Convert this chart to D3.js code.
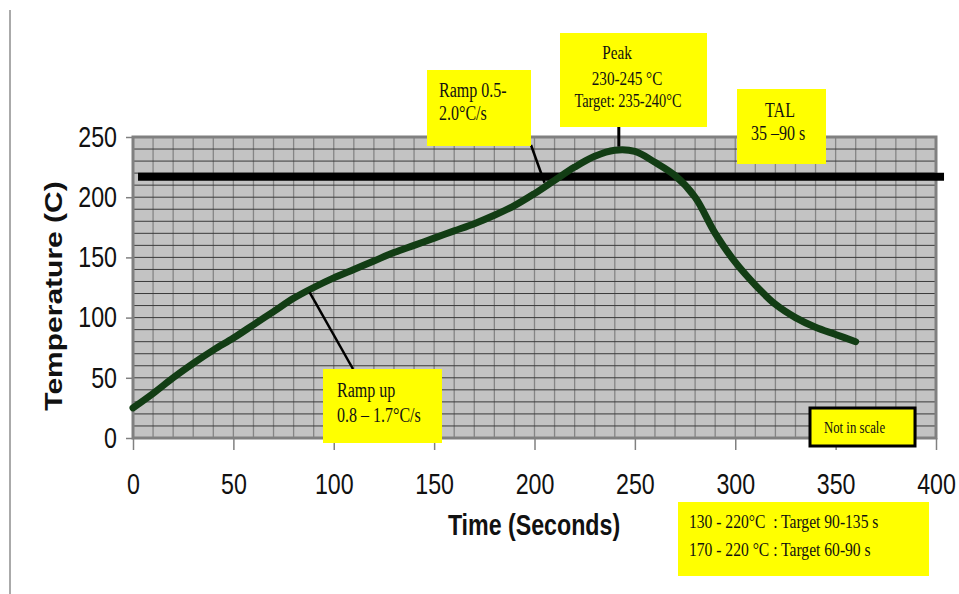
<!DOCTYPE html>
<html>
<head>
<meta charset="utf-8">
<script src="https://cdn.jsdelivr.net/npm/d3@7"></script>
<style>
  body { margin: 0; background: #fff; }
  text { font-family: "Liberation Sans", Arial, sans-serif; }
  .note { font-family: "Liberation Serif", "Times New Roman", serif; fill: #111; }
</style>
</head>
<body>
<div id="chart"></div>
<script>
// reflow profile (seconds, degrees C)
const times = [0, 10, 20, 30, 40, 50, 60, 70, 80, 90, 100, 110, 120, 130, 140, 150, 160, 170, 180,
	190, 200, 210, 220, 230, 240, 250, 260, 270, 280, 290, 300, 310, 320, 330, 340, 350, 360]
const temps = [25, 37, 50, 62, 73, 83, 94, 105, 116, 125, 133, 140, 147, 154, 160, 166, 172, 178, 185,
	193, 203, 214, 225, 234, 239, 238, 229, 218, 200, 170, 146, 127, 111, 100, 92, 86, 80]
const xTicks = [0, 50, 100, 150, 200, 250, 300, 350, 400]
const yTicks = [0, 50, 100, 150, 200, 250]
const liquidus = 217

const W = 959, H = 594
const x = d3.scaleLinear().domain([0, 400]).range([133, 936])
const y = d3.scaleLinear().domain([0, 250]).range([438, 137])
const squeeze = 0.8

const svg = d3.select("#chart")
	.append("svg")
	.attr("width", W)
	.attr("height", H)

// thin rule on the far left
svg.append("line")
	.attr("x1", 10).attr("x2", 10)
	.attr("y1", 10).attr("y2", H)
	.attr("stroke", "#aaa")
	.attr("stroke-width", 2)

// plot background
svg.append("rect")
	.attr("x", x(0))
	.attr("y", y(250))
	.attr("width", x(400) - x(0))
	.attr("height", y(0) - y(250))
	.attr("fill", "#c3c3c3")

svg.append("g")
	.selectAll("line")
	.data(d3.range(10, 400, 10))
	.enter().append("line")
	.attr("x1", d => x(d)).attr("x2", d => x(d))
	.attr("y1", y(250)).attr("y2", y(0))
	.attr("stroke", "#858585")
	.attr("stroke-width", 1.3)

svg.append("g")
	.selectAll("line")
	.data(d3.range(10, 250, 10))
	.enter().append("line")
	.attr("x1", x(0)).attr("x2", x(400))
	.attr("y1", d => y(d)).attr("y2", d => y(d))
	.attr("stroke", "#3a3a3a")
	.attr("stroke-width", 1)

svg.append("rect")
	.attr("x", x(0))
	.attr("y", y(250))
	.attr("width", x(400) - x(0))
	.attr("height", y(0) - y(250))
	.attr("fill", "none")
	.attr("stroke", "#808080")
	.attr("stroke-width", 3)

// axes
const yAxis = svg.append("g")
	.attr("transform", `translate(${x(0)},0)`)
	.call(d3.axisLeft(y).tickValues(yTicks).tickSize(7).tickPadding(9))
const xAxis = svg.append("g")
	.attr("transform", `translate(0,${y(0)})`)
	.call(d3.axisBottom(x).tickValues(xTicks).tickSize(12).tickPadding(23))

for (const ax of [xAxis, yAxis]) {
	ax.select(".domain").remove()
	ax.selectAll(".tick line").attr("stroke", "#808080").attr("stroke-width", 1.5)
	ax.selectAll(".tick text")
		.style("font-family", "'Liberation Sans', Arial, sans-serif")
		.style("font-size", "29px")
		.attr("fill", "#111")
}
yAxis.selectAll(".tick text")
	.attr("x", -16 / squeeze)
	.attr("transform", `scale(${squeeze},1)`)
xAxis.selectAll(".tick text")
	.attr("transform", `scale(${squeeze},1)`)

// axis titles
svg.append("text")
	.attr("transform", `translate(62,296) scale(${squeeze},1) rotate(-90)`)
	.attr("text-anchor", "middle")
	.style("font-size", "30px")
	.style("font-weight", "bold")
	.attr("fill", "#111")
	.text("Temperature (C)")

svg.append("text")
	.attr("transform", `translate(534,535) scale(${squeeze},1)`)
	.attr("text-anchor", "middle")
	.style("font-size", "29px")
	.style("font-weight", "bold")
	.attr("fill", "#111")
	.text("Time (Seconds)")

// liquidus line
svg.append("line")
	.attr("x1", x(2.5)).attr("x2", x(404))
	.attr("y1", y(liquidus)).attr("y2", y(liquidus))
	.attr("stroke", "#000")
	.attr("stroke-width", 8)

// profile
const profile = times.map((t, i) => ({t: t, v: temps[i]}))
const line = d3.line()
	.x(d => x(d.t))
	.y(d => y(d.v))
	.curve(d3.curveCatmullRom.alpha(0.5))

svg.append("path")
	.datum(profile)
	.attr("d", line)
	.attr("fill", "none")
	.attr("stroke", "#123d14")
	.attr("stroke-width", 7)
	.attr("stroke-linecap", "round")
	.attr("stroke-linejoin", "round")

// pointers
function pointer(x1, y1, x2, y2, w) {
	svg.append("line")
		.attr("x1", x1).attr("y1", y1)
		.attr("x2", x2).attr("y2", y2)
		.attr("stroke", "#000")
		.attr("stroke-width", w)
}
pointer(x(88), y(121), 353, 369, 2.5)
pointer(531, 145, x(205), y(212), 2.5)
pointer(x(242), 127, x(242), y(242), 3)

// yellow notes
function note(bx, by, bw, bh, lines, border) {
	svg.append("rect")
		.attr("x", bx).attr("y", by)
		.attr("width", bw).attr("height", bh)
		.attr("fill", "#ffff00")
		.attr("stroke", border ? "#000" : "none")
		.attr("stroke-width", border ? 3 : 0)
	lines.forEach(l => {
		svg.append("text")
			.attr("class", "note")
			.attr("transform", `translate(${l[1]},${l[2]}) scale(${squeeze},1)`)
			.attr("text-anchor", l[4] || "start")
			.attr("xml:space", "preserve")
			.style("font-size", l[3] + "px")
			.text(l[0])
	})
}

note(427, 70, 104, 76, [
	["Ramp 0.5-", 439, 97, 20],
	["2.0°C/s", 439, 120, 20]
])
note(560, 33, 147, 94, [
	["Peak", 617, 59, 19, "middle"],
	["230-245 °C", 627, 85, 19, "middle"],
	["Target: 235-240°C", 628, 107, 18, "middle"]
])
note(737, 89, 89, 75, [
	["TAL", 780, 117, 20, "middle"],
	["35 –90 s", 778, 140, 20, "middle"]
])
note(323, 369, 119, 74, [
	["Ramp up", 337, 397, 20],
	["0.8 – 1.7°C/s", 337, 422, 20]
])
note(810, 408, 105, 38, [
	["Not in scale", 824, 433, 16]
], true)
note(678, 502, 251, 74, [
	["130 - 220°C  : Target 90-135 s", 689, 528, 19.5],
	["170 - 220 °C : Target 60-90 s", 689, 556, 19.5]
])
</script>
</body>
</html>
